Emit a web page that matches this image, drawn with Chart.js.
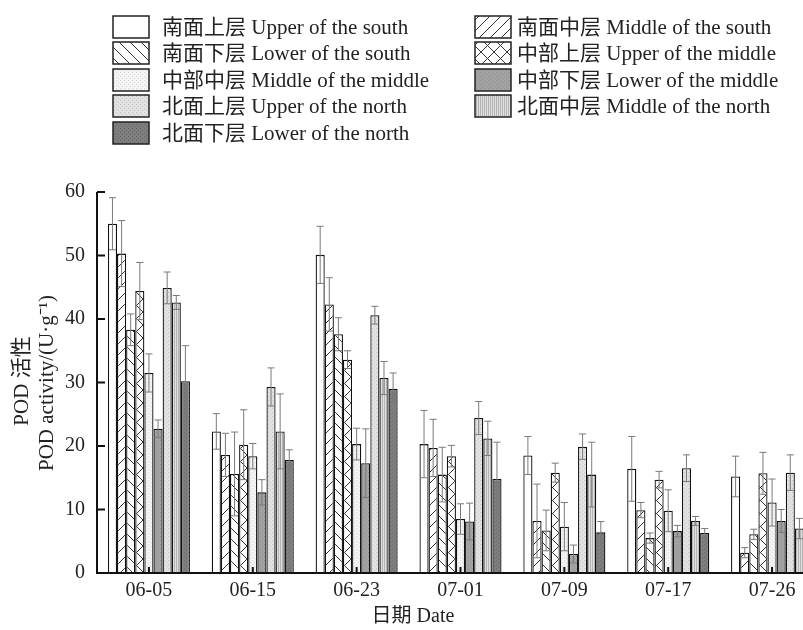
<!DOCTYPE html>
<html>
<head>
<meta charset="utf-8">
<script src="https://cdn.jsdelivr.net/npm/chart.js@4/dist/chart.umd.min.js"></script>
<style>
  html, body { margin: 0; padding: 0; background: #fff; overflow: hidden; }
  #wrap { position: absolute; left: 0; top: 0; width: 830px; height: 630px; }
</style>
</head>
<body>
<div id="wrap"><canvas id="chart"></canvas></div>
<script>
// fechas de muestreo
const dates = ['06-05', '06-15', '06-23', '07-01', '07-09', '07-17', '07-26'];

const labels = [
  '南面上层 Upper of the south', '南面中层 Middle of the south', '南面下层 Lower of the south',
  '中部上层 Upper of the middle', '中部中层 Middle of the middle', '中部下层 Lower of the middle',
  '北面上层 Upper of the north', '北面中层 Middle of the north', '北面下层 Lower of the north'
];

// valores medios
const upperSouth  = [55.0, 22.3, 50.1, 20.3, 18.5, 16.4, 15.2];
const middleSouth = [50.3, 18.6, 42.3, 19.7, 8.2, 9.9, 3.2];
const lowerSouth  = [38.3, 15.6, 37.6, 15.5, 6.7, 5.5, 6.1];
const upperMiddle = [44.4, 20.2, 33.6, 18.4, 15.8, 14.7, 15.7];
const middleMiddle = [31.5, 18.4, 20.3, 8.5, 7.3, 9.8, 11.1];
const lowerMiddle = [22.7, 12.7, 17.3, 8.1, 3.0, 6.6, 8.2];
const upperNorth  = [44.9, 29.3, 40.6, 24.4, 19.9, 16.5, 15.8];
const middleNorth = [42.6, 22.3, 30.7, 21.2, 15.5, 8.2, 7.0];
const lowerNorth  = [30.2, 17.8, 29.0, 14.8, 6.4, 6.3, 5.8];

// barras de error
const errUpperSouth  = [4.1, 2.8, 4.5, 5.3, 3.0, 5.1, 3.2];
const errMiddleSouth = [5.2, 3.4, 4.2, 4.5, 5.8, 1.2, 0.8];
const errLowerSouth  = [2.5, 6.6, 2.6, 4.3, 3.2, 0.8, 0.8];
const errUpperMiddle = [4.5, 5.5, 1.4, 1.7, 1.5, 1.3, 3.3];
const errMiddleMiddle = [3.0, 2.0, 2.5, 2.4, 3.8, 3.3, 3.7];
const errLowerMiddle = [1.4, 2.0, 5.4, 2.9, 1.4, 0.9, 1.8];
const errUpperNorth  = [2.5, 3.0, 1.4, 2.6, 2.0, 2.1, 2.8];
const errMiddleNorth = [1.1, 5.9, 2.6, 2.7, 5.1, 0.7, 1.6];
const errLowerNorth  = [5.6, 1.6, 2.5, 5.8, 1.7, 0.7, 0.2];

const yTicks = [0, 10, 20, 30, 40, 50, 60];

const series = [upperSouth, middleSouth, lowerSouth, upperMiddle, middleMiddle,
  lowerMiddle, upperNorth, middleNorth, lowerNorth];
const errors = [errUpperSouth, errMiddleSouth, errLowerSouth, errUpperMiddle, errMiddleMiddle,
  errLowerMiddle, errUpperNorth, errMiddleNorth, errLowerNorth];

// patrones de relleno
function makePattern(size, draw) {
  const c = document.createElement('canvas');
  c.width = size; c.height = size;
  const g = c.getContext('2d');
  draw(g, size);
  return g.createPattern(c, 'repeat');
}
function solid(bg) { return (g, s) => { g.fillStyle = bg; g.fillRect(0, 0, s, s); }; }
function stipple(bg, dot) {
  return (g, s) => {
    g.fillStyle = bg; g.fillRect(0, 0, s, s);
    g.fillStyle = dot; g.fillRect(0, 0, 1, 1); g.fillRect(2, 2, 1, 1);
  };
}
const fills = [
  '#ffffff',
  makePattern(11, (g, s) => {
    solid('#fff')(g, s);
    g.strokeStyle = '#333'; g.lineWidth = 1;
    g.beginPath(); g.moveTo(-1, s + 1); g.lineTo(s + 1, -1); g.stroke();
  }),
  makePattern(11, (g, s) => {
    solid('#fff')(g, s);
    g.strokeStyle = '#333'; g.lineWidth = 1;
    g.beginPath(); g.moveTo(-1, -1); g.lineTo(s + 1, s + 1); g.stroke();
  }),
  makePattern(13, (g, s) => {
    solid('#fff')(g, s);
    g.strokeStyle = '#333'; g.lineWidth = 1;
    g.beginPath(); g.moveTo(-1, -1); g.lineTo(s + 1, s + 1);
    g.moveTo(-1, s + 1); g.lineTo(s + 1, -1); g.stroke();
  }),
  makePattern(4, stipple('#f4f4f4', '#d8d8d8')),
  makePattern(4, stipple('#a2a2a2', '#8e8e8e')),
  makePattern(4, stipple('#e2e2e2', '#c4c4c4')),
  makePattern(2, (g, s) => { g.fillStyle = '#e0e0e0'; g.fillRect(0, 0, 2, 2); g.fillStyle = '#b4b4b4'; g.fillRect(0, 0, 1, 2); }),
  makePattern(4, stipple('#7e7e7e', '#666666'))
];

const serif = '"Liberation Serif", "Noto Sans CJK SC", serif';
const ink = '#222';

const decorPlugin = {
  id: 'decor',
  afterDatasetsDraw(chart) {
    const ctx = chart.ctx;
    const y = chart.scales.y;
    const x = chart.scales.x;
    const area = chart.chartArea;
    ctx.save();

    // barras de error
    ctx.strokeStyle = '#7a7a7a';
    ctx.lineWidth = 1;
    chart.data.datasets.forEach((ds, i) => {
      const meta = chart.getDatasetMeta(i);
      meta.data.forEach((bar, j) => {
        const v = series[i][j], e = errors[i][j];
        const top = y.getPixelForValue(v + e);
        const bot = y.getPixelForValue(Math.max(v - e, 0));
        const hw = bar.width / 2 - 1;
        ctx.beginPath();
        ctx.moveTo(bar.x, top); ctx.lineTo(bar.x, bot);
        ctx.moveTo(bar.x - hw, top); ctx.lineTo(bar.x + hw, top);
        ctx.moveTo(bar.x - hw, bot); ctx.lineTo(bar.x + hw, bot);
        ctx.stroke();
      });
    });

    // ejes
    ctx.strokeStyle = '#111';
    ctx.lineWidth = 2;
    ctx.beginPath();
    ctx.moveTo(area.left, area.top); ctx.lineTo(area.left, area.bottom);
    ctx.lineTo(area.right, area.bottom);
    ctx.stroke();
    ctx.beginPath();
    yTicks.forEach(t => {
      if (t === 0) return;
      const py = y.getPixelForValue(t);
      ctx.moveTo(area.left, py); ctx.lineTo(area.left + 8, py);
    });
    dates.forEach((d, k) => {
      const px = x.getPixelForValue(k);
      ctx.moveTo(px, area.bottom); ctx.lineTo(px, area.bottom - 6);
    });
    ctx.stroke();

    // titulos de ejes
    ctx.fillStyle = ink;
    ctx.font = '20px ' + serif;
    ctx.textAlign = 'center';
    ctx.textBaseline = 'middle';
    ctx.fillText('日期 Date', 413, 617);
    ctx.font = '21px ' + serif;
    ctx.save();
    ctx.translate(22, 381);
    ctx.rotate(-Math.PI / 2);
    ctx.fillText('POD 活性', 0, 0);
    ctx.restore();
    ctx.save();
    ctx.translate(47, 383);
    ctx.rotate(-Math.PI / 2);
    ctx.fillText('POD activity/(U·g⁻¹)', 0, 0);
    ctx.restore();

    // leyenda en dos columnas
    const colBox = [113, 475];
    const colText = [162, 517];
    const rowY = [27, 53, 80, 106, 133];
    ctx.textAlign = 'left';
    ctx.font = '21px ' + serif;
    chart.data.datasets.forEach((ds, i) => {
      const col = i % 2, row = Math.floor(i / 2);
      const cy = rowY[row];
      ctx.fillStyle = ds.backgroundColor;
      ctx.fillRect(colBox[col], cy - 11, 36, 22);
      ctx.strokeStyle = '#222';
      ctx.lineWidth = 1.5;
      ctx.strokeRect(colBox[col], cy - 11, 36, 22);
      ctx.fillStyle = ink;
      ctx.fillText(ds.label, colText[col], cy + 1);
    });
    ctx.restore();
  }
};

const ctx = document.getElementById('chart').getContext('2d');
new Chart(ctx, {
  type: 'bar',
  data: {
    labels: dates,
    datasets: series.map((vals, i) => ({
      label: labels[i],
      data: vals,
      backgroundColor: fills[i],
      borderColor: '#111',
      borderWidth: 1.3,
      categoryPercentage: 0.79,
      barPercentage: 1.0
    }))
  },
  options: {
    responsive: true,
    maintainAspectRatio: false,
    animation: false,
    layout: { padding: { top: 192, left: 53, right: 6, bottom: 21 } },
    plugins: {
      legend: { display: false },
      tooltip: { enabled: false }
    },
    scales: {
      y: {
        min: 0,
        max: 60,
        ticks: { stepSize: 10, color: ink, padding: 12, font: { family: serif, size: 20 } },
        grid: { display: false, drawTicks: false },
        border: { display: false }
      },
      x: {
        ticks: { color: ink, padding: 6, font: { family: serif, size: 20 } },
        grid: { display: false, drawTicks: false },
        border: { display: false }
      }
    }
  },
  plugins: [decorPlugin]
});
</script>
</body>
</html>
